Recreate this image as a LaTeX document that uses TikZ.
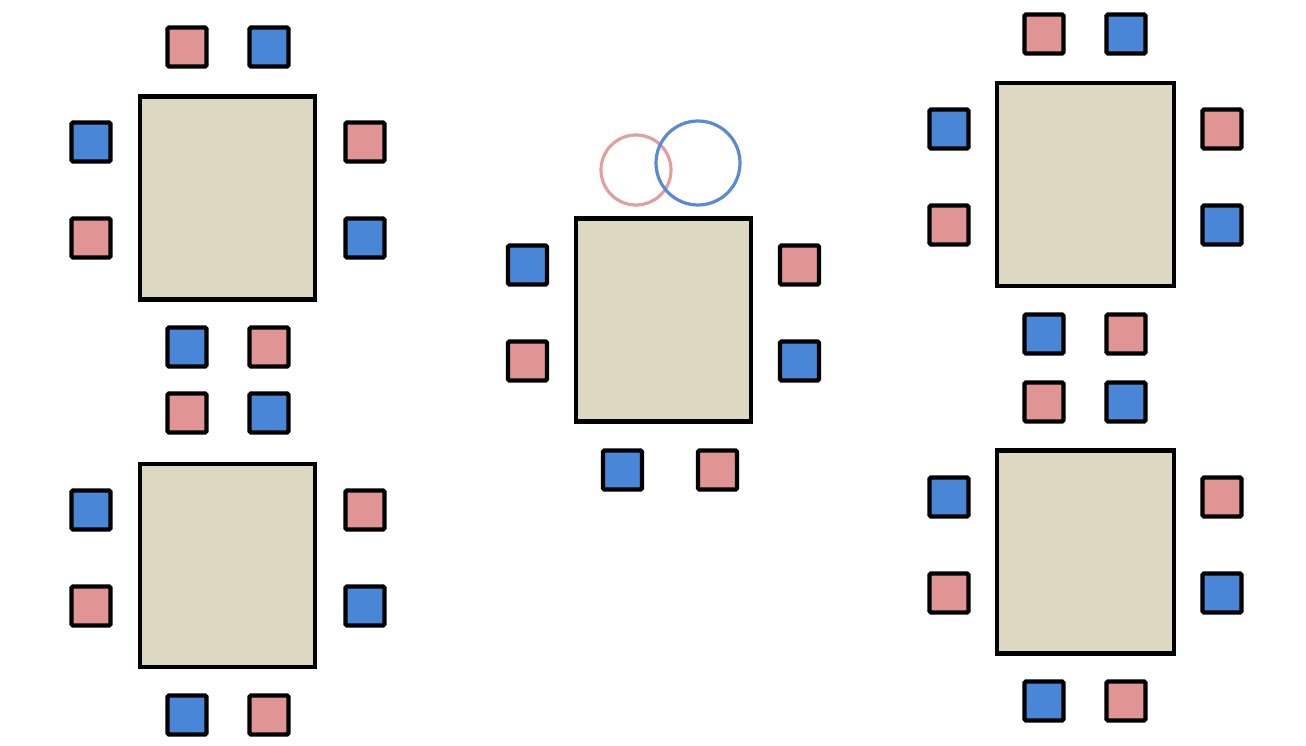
\documentclass[tikz,border=0pt]{standalone}
\definecolor{tablefill}{HTML}{DCD8C2}
\definecolor{chairpink}{HTML}{E09494}
\definecolor{chairblue}{HTML}{4A86D8}
\definecolor{ringpink}{HTML}{E0A0A0}
\definecolor{ringblue}{HTML}{5A8BD2}
\tikzset{
  tablebox/.style={draw=black, fill=tablefill, line width=4.4pt, inner sep=0pt, minimum width=175pt, minimum height=203pt},
  pinkchair/.style={draw=black, fill=chairpink, line width=4.4pt, inner sep=0pt, minimum size=39pt, rounded corners=1.5pt},
  bluechair/.style={draw=black, fill=chairblue, line width=4.4pt, inner sep=0pt, minimum size=39pt, rounded corners=1.5pt},
  pinkring/.style={draw=ringpink, line width=3.2pt, circle, inner sep=0pt},
  bluering/.style={draw=ringblue, line width=3.2pt, circle, inner sep=0pt}
}
\begin{document}
\begin{tikzpicture}[x=1pt,y=-1pt]
\useasboundingbox[fill=white] (0,0) rectangle (1306,746);
% Group A (top-left)
\node[tablebox] (tA) at (227.5,198) {};
\node[pinkchair] (a1) at (187,47) {};
\node[bluechair] (a2) at (269,47) {};
\node[bluechair] (a3) at (91,142) {};
\node[pinkchair] (a4) at (91,238) {};
\node[pinkchair] (a5) at (365,142) {};
\node[bluechair] (a6) at (365,238) {};
\node[bluechair] (a7) at (187,347) {};
\node[pinkchair] (a8) at (269,347) {};
% Group B (bottom-left)
\node[tablebox] (tB) at (227.5,565.5) {};
\node[pinkchair] (b1) at (187,413) {};
\node[bluechair] (b2) at (269,413) {};
\node[bluechair] (b3) at (91,510) {};
\node[pinkchair] (b4) at (91,606) {};
\node[pinkchair] (b5) at (365,510) {};
\node[bluechair] (b6) at (365,606) {};
\node[bluechair] (b7) at (187,715) {};
\node[pinkchair] (b8) at (269,715) {};
% Group C (middle)
\node[tablebox] (tC) at (663.5,320) {};
\node[bluechair] (c3) at (527.5,265) {};
\node[pinkchair] (c4) at (527.5,361) {};
\node[pinkchair] (c5) at (799.5,265) {};
\node[bluechair] (c6) at (799.5,361) {};
\node[bluechair] (c7) at (622.5,470) {};
\node[pinkchair] (c8) at (717.5,470) {};
\node[pinkring, minimum size=70pt] (r1) at (636,170) {};
\node[bluering, minimum size=84pt] (r2) at (698,163) {};
% Group D (top-right)
\node[tablebox, minimum width=177pt] (tD) at (1085.5,184.5) {};
\node[pinkchair] (d1) at (1044,34) {};
\node[bluechair] (d2) at (1126,34) {};
\node[bluechair] (d3) at (949,129) {};
\node[pinkchair] (d4) at (949,225) {};
\node[pinkchair] (d5) at (1222,129) {};
\node[bluechair] (d6) at (1222,225) {};
\node[bluechair] (d7) at (1044,334) {};
\node[pinkchair] (d8) at (1126,334) {};
% Group E (bottom-right)
\node[tablebox, minimum width=177pt] (tE) at (1085.5,552) {};
\node[pinkchair] (e1) at (1044,402) {};
\node[bluechair] (e2) at (1126,402) {};
\node[bluechair] (e3) at (949,497) {};
\node[pinkchair] (e4) at (949,593) {};
\node[pinkchair] (e5) at (1222,497) {};
\node[bluechair] (e6) at (1222,593) {};
\node[bluechair] (e7) at (1044,701) {};
\node[pinkchair] (e8) at (1126,701) {};
\end{tikzpicture}
\end{document}
